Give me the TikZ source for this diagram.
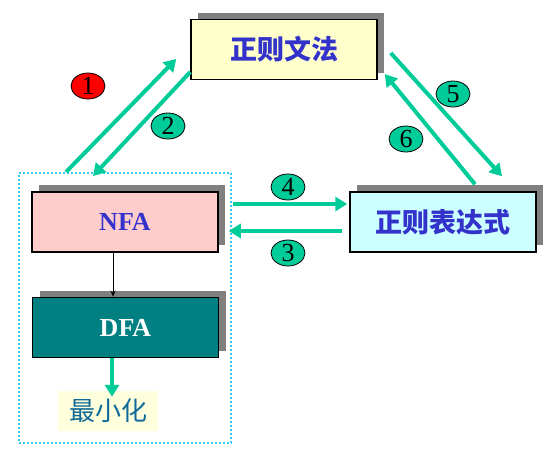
\documentclass[tikz,border=0pt]{standalone}
\usepackage{fontspec}
\setmainfont{Liberation Serif}
\newfontfamily\cjk{Noto Sans CJK SC}
\usetikzlibrary{arrows.meta,shadows,shapes.geometric}
\definecolor{gramfill}{HTML}{FFFFCC}
\definecolor{nfafill}{HTML}{FFCCCC}
\definecolor{refill}{HTML}{CCFFFF}
\definecolor{dfafill}{HTML}{008080}
\definecolor{minfill}{HTML}{FFFFDD}
\definecolor{mintext}{HTML}{0F6A9A}
\definecolor{flowgreen}{HTML}{00CC99}
\definecolor{titleblue}{HTML}{3333CC}
\definecolor{dotblue}{HTML}{33CCFF}
\begin{document}
\begin{tikzpicture}[x=1pt, y=-1pt,
		box/.style={draw=black, line width=1.5pt, minimum width=186pt, minimum height=60pt,
			general shadow={fill=black!50, shadow xshift=7pt, shadow yshift=7pt}},
		cjktitle/.style={font=\cjk\bfseries\fontsize{27}{27}\selectfont, text=titleblue},
		latintitle/.style={font=\bfseries\fontsize{26}{26}\selectfont},
		flow/.style={draw=flowgreen, line width=4pt, -{Triangle[length=12pt,width=14pt]}},
		num/.style={ellipse, draw=black, line width=0.8pt, fill=#1, minimum width=34pt,
			minimum height=26pt, inner sep=0pt, font=\fontsize{26}{26}\selectfont}
	]
	\useasboundingbox (0,0) rectangle (555,455);
	% dotted group round NFA and DFA
	\node[draw=dotblue, line width=2pt, dash pattern=on 2pt off 2pt,
		minimum width=212pt, minimum height=270pt, inner sep=0pt] (grp) at (125,308) {};
	% boxes
	\node[box, fill=gramfill, cjktitle] (gram) at (284,49.5) {正则文法};
	\node[box, fill=nfafill, latintitle, text=titleblue] (nfa) at (125,222) {NFA};
	\node[box, fill=refill, cjktitle] (regex) at (443,222) {正则表达式};
	\node[box, fill=dfafill, latintitle, text=white] (dfa) at (125.5,327.5) {DFA};
	\node[fill=minfill, minimum width=100pt, minimum height=40pt, text=mintext,
		font=\cjk\fontsize{26}{26}\selectfont] (minim) at (108,411) {最小化};
	% connectors
	\draw[flow] ([xshift=-59pt]grp.north) -- ([xshift=-14pt,yshift=-9.5pt]gram.west);
	\draw[flow] ([yshift=-22.5pt]gram.west) -- ([xshift=-32pt,yshift=-4pt]grp.north);
	\draw[flow] ([xshift=13pt,yshift=-3.5pt]gram.east) -- ([xshift=59pt,yshift=15pt]regex.north);
	\draw[flow] ([xshift=32pt,yshift=7pt]regex.north) -- ([xshift=7pt,yshift=-24.5pt]gram.east);
	\draw[flow] ([xshift=14pt,yshift=18pt]nfa.east) -- ([xshift=-2pt,yshift=18pt]regex.west);
	\draw[flow] ([xshift=-7pt,yshift=-9pt]regex.west) -- ([xshift=10pt,yshift=-9pt]nfa.east);
	\draw[line width=1pt, -{Stealth[length=6pt,width=5pt]}] ([xshift=-12pt]nfa.south) -- ([xshift=-12.5pt]dfa.north);
	\draw[flow] ([xshift=-13.5pt]dfa.south) -- ([xshift=4pt,yshift=-6pt]minim.north);
	% step numbers
	\node[num=red] (n1) at (88,86) {1};
	\node[num=flowgreen] (n2) at (168,126) {2};
	\node[num=flowgreen] (n3) at (288,253) {3};
	\node[num=flowgreen] (n4) at (288,187) {4};
	\node[num=flowgreen] (n5) at (453,94) {5};
	\node[num=flowgreen] (n6) at (406,139) {6};
\end{tikzpicture}
\end{document}
